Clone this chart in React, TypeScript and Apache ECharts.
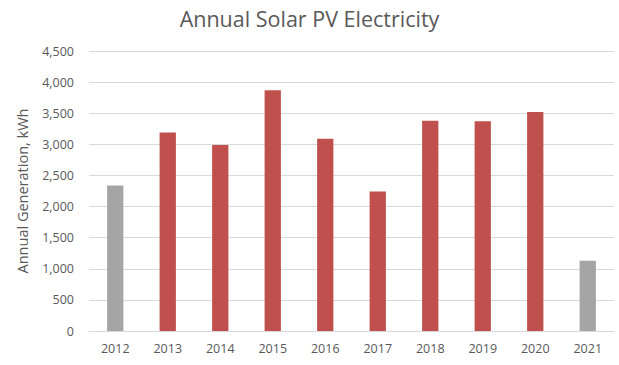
import React, { useEffect, useRef } from "react";
import * as echarts from "echarts";

const years = ["2012", "2013", "2014", "2015", "2016", "2017", "2018", "2019", "2020", "2021"];
const generation = [2340, 3190, 2990, 3870, 3090, 2240, 3380, 3370, 3520, 1130];
// Partial years (first and latest) are shown in grey
const partialYears = ["2012", "2021"];

const RED = "#C0504D";
const GREY = "#A5A5A5";
const TEXT = "#595959";
const FONT = "'Open Sans', 'Liberation Sans', sans-serif";

export default function App() {
  const ref = useRef<HTMLDivElement>(null);

  useEffect(() => {
    if (!ref.current) return;
    const chart = echarts.init(ref.current, undefined, { renderer: "svg" });
    chart.setOption({
      animation: false,
      backgroundColor: "#ffffff",
      title: {
        text: "Annual Solar PV Electricity",
        left: "center",
        top: 7,
        padding: 0,
        textStyle: { fontFamily: FONT, fontSize: 21.5, fontWeight: "normal", color: TEXT },
      },
      grid: { left: 89, right: 5, top: 51, bottom: 34 },
      xAxis: {
        type: "category",
        data: years,
        axisLine: { lineStyle: { color: "#D9D9D9" } },
        axisTick: { show: false },
        axisLabel: { color: TEXT, fontFamily: FONT, fontSize: 12.5, margin: 11 },
      },
      yAxis: {
        type: "value",
        min: 0,
        max: 4500,
        interval: 500,
        name: "Annual Generation, kWh",
        nameLocation: "middle",
        nameGap: 59,
        nameTextStyle: { color: TEXT, fontFamily: FONT, fontSize: 14.5 },
        axisLine: { show: false },
        axisTick: { show: false },
        splitLine: { lineStyle: { color: "#D9D9D9" } },
        axisLabel: {
          color: TEXT,
          fontFamily: FONT,
          fontSize: 12.5,
          margin: 15,
          formatter: (v: number) => v.toLocaleString("en-US"),
        },
      },
      series: [
        {
          type: "bar",
          barWidth: "31%",
          data: generation.map((v, i) => ({
            value: v,
            itemStyle: { color: partialYears.includes(years[i]) ? GREY : RED },
          })),
        },
      ],
    });
    return () => chart.dispose();
  }, []);

  return (
    <div
      ref={ref}
      style={{ position: "absolute", left: 0, top: 0, width: 619, height: 365 }}
    />
  );
}
